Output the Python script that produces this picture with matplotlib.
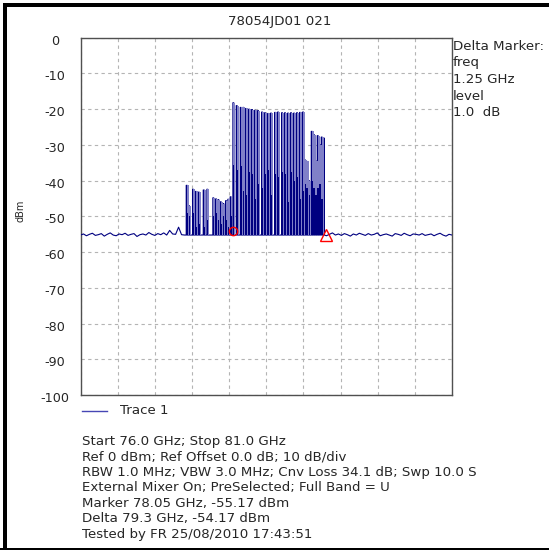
"""Spectrum analyser plot, redrawn from a screen capture (78054JD01 021)"""
import matplotlib
matplotlib.use("Agg")
import numpy as np
import matplotlib.pyplot as plt
from matplotlib.lines import Line2D
from matplotlib.patches import Rectangle

plt.rcParams['font.family'] = ['DejaVu Sans']
plt.rcParams['axes.unicode_minus'] = False

TITLE = "78054JD01 021"
START_GHZ, STOP_GHZ = 76.0, 81.0
y_ticks = [0, -10, -20, -30, -40, -50, -60, -70, -80, -90, -100]

# noise floor either side of the signal (uniform sweep points)
floor_left_start, floor_left_stop = 76.0, 77.40
floor_left_dbm = [-55.2, -54.9, -55.4, -55.0, -54.7, -55.3, -55.1, -54.8, -55.5, -55.0,
                  -54.6, -55.2, -55.4, -54.9, -55.1, -54.7, -55.3, -55.0, -54.8, -55.6,
                  -55.1, -54.9, -55.2, -54.5, -55.0, -55.3, -54.8, -55.1, -54.6, -55.2,
                  -53.9, -54.9, -55.0, -53.0, -55.1, -55.2]
floor_right_start, floor_right_stop = 79.31, 81.0
floor_right_dbm = [-55.4, -55.0, -54.6, -55.2, -54.9, -55.3, -54.8, -55.1, -55.5, -54.9,
                   -55.2, -54.7, -55.0, -55.3, -54.8, -55.2, -55.0, -54.6, -55.4, -55.1,
                   -54.9, -55.2, -55.5, -54.8, -55.0, -55.3, -54.7, -55.1, -55.4, -54.9,
                   -55.0, -55.2, -54.8, -55.3, -55.1, -54.9, -55.4, -55.0, -54.7, -55.2,
                   -55.5, -55.0, -55.2]
valley_dbm = -55.2

# spikes: centre frequency, peak level, level up to which the trace is dense
spike_ghz = [77.429, 77.460, 77.514, 77.552, 77.592, 77.658, 77.707,
             77.787, 77.824, 77.855, 77.887, 77.922, 77.958, 77.989, 78.020,
             78.057, 78.102, 78.156, 78.191, 78.227, 78.268, 78.308, 78.349, 78.389,
             78.443, 78.483, 78.524, 78.564, 78.618, 78.658, 78.712, 78.752, 78.793,
             78.833, 78.874, 78.914, 78.954, 78.995,
             79.022, 79.044, 79.075, 79.112, 79.140, 79.165, 79.192, 79.222, 79.246, 79.277]
spike_peak = [-41.3, -47.0, -42.4, -43.0, -43.2, -42.6, -42.4,
              -44.8, -45.1, -45.3, -45.9, -46.4, -45.6, -45.2, -44.5,
              -18.2, -19.0, -19.5, -19.5, -19.8, -20.0, -20.1, -20.3, -20.4,
              -20.8, -21.0, -21.2, -21.1, -20.9, -20.8, -21.0, -21.0, -21.1,
              -21.0, -21.1, -21.0, -20.9, -20.8,
              -34.2, -34.6, -40.0, -26.2, -27.1, -34.5, -27.4, -30.0, -27.8, -28.1]
spike_dense = [-49, -50, -49, -53, -52, -53, -51,
               -50, -49, -51, -52, -50, -51, -53, -50,
               -35.5, -37, -36, -43, -44, -37.5, -38, -45, -41,
               -42, -38, -37, -44, -38, -39, -37.5, -38, -46,
               -37.5, -40, -39, -45, -43,
               -41, -42, -44, -40, -42, -44, -42, -41, -45]

marker_ghz, marker_dbm = 78.05, -54.2
delta_ghz, delta_dbm = 79.3, -55.3

delta_lines = ["Delta Marker:", "freq", "1.25 GHz", "level", "1.0  dB"]
info_lines = ["Start 76.0 GHz; Stop 81.0 GHz",
              "Ref 0 dBm; Ref Offset 0.0 dB; 10 dB/div",
              "RBW 1.0 MHz; VBW 3.0 MHz; Cnv Loss 34.1 dB; Swp 10.0 S",
              "External Mixer On; PreSelected; Full Band = U",
              "Marker 78.05 GHz, -55.17 dBm",
              "Delta 79.3 GHz, -54.17 dBm",
              "Tested by FR 25/08/2010 17:43:51"]

NAVY = '#000080'
LIGHT = '#8080c8'
TEXT = '#262626'
W, H = 549, 550
SPIKE_HW = 0.006   # half width of the dark spike line, GHz
COL_LEFT = 0.002   # light column starts just right of the spike centre
COL_RIGHT = 0.025  # ... and ends here, GHz
DENSE_RIGHT = 0.014


def build_trace():
    xs = list(np.linspace(floor_left_start, floor_left_stop, len(floor_left_dbm)))
    ys = list(floor_left_dbm)
    for f, p in zip(spike_ghz, spike_peak):
        xs += [f - SPIKE_HW, f - SPIKE_HW, f + SPIKE_HW, f + SPIKE_HW]
        ys += [valley_dbm, p, p, valley_dbm]
    xs += list(np.linspace(floor_right_start, floor_right_stop, len(floor_right_dbm)))
    ys += list(floor_right_dbm)
    return xs, ys


fig = plt.figure(figsize=(W / 100, H / 100), dpi=100)
ax = fig.add_axes([80.5 / W, 1 - 395.2 / H, 371.5 / W, 357.5 / H])

trace_x, trace_y = build_trace()
ax.plot(trace_x, trace_y, color=NAVY, lw=0.8, zorder=3)

# light columns sit on top of the line, dense parts on top of those
for f, p, d in zip(spike_ghz, spike_peak, spike_dense):
    ax.add_patch(Rectangle((f + COL_LEFT, valley_dbm), COL_RIGHT - COL_LEFT, p - valley_dbm,
                           facecolor=LIGHT, edgecolor='none', zorder=4))
    ax.add_patch(Rectangle((f - SPIKE_HW, valley_dbm), DENSE_RIGHT + SPIKE_HW, d - valley_dbm,
                           facecolor=NAVY, edgecolor='none', zorder=5))

ax.plot(marker_ghz, marker_dbm, 'o', ms=6, mfc='none', mec='red', mew=1, zorder=6)
ax.plot(delta_ghz, delta_dbm, '^', ms=8, mfc='none', mec='red', mew=1, zorder=6)

ax.set_xlim(START_GHZ, STOP_GHZ)
ax.set_ylim(-100, 0)
ax.set_xticks(np.linspace(START_GHZ, STOP_GHZ, 11))
ax.set_yticks(y_ticks)
ax.tick_params(length=0, labelleft=False, labelbottom=False)
ax.grid(True, color='#b4b4b4', lw=0.8, linestyle=(0, (3, 3)))
ax.set_axisbelow(True)
for spine in ax.spines.values():
    spine.set_color('#505050')
    spine.set_linewidth(1.0)

for v in y_ticks:
    ax.annotate(str(v), xy=(0, v), xycoords=('axes fraction', 'data'),
                xytext=(-18.4, -2.4), textcoords='offset points',
                ha='center', va='center', fontsize=9.2, color=TEXT)

fig.text(21 / W, 1 - 211 / H, "dBm", rotation=90, ha='center', va='center',
         fontsize=7, color=TEXT)
fig.text(280 / W, 1 - 21 / H, TITLE, ha='center', va='center', fontsize=9.6, color=TEXT)

for i, line in enumerate(delta_lines):
    fig.text(453 / W, 1 - (46 + 16.7 * i) / H, line, ha='left', va='center',
             fontsize=9.6, color=TEXT)

# legend
fig.add_artist(Line2D([81.7 / W, 107 / W], [1 - 410.5 / H] * 2, color='#4646b4', lw=1))
fig.text(119.7 / W, 1 - 410.5 / H, "Trace 1", ha='left', va='center', fontsize=9.6, color=TEXT)

for i, line in enumerate(info_lines):
    fig.text(81.7 / W, 1 - (441.3 + 15.5 * i) / H, line, ha='left', va='center',
             fontsize=9.6, color=TEXT)

# frame of the capture
fig.add_artist(Rectangle((3 / W, 0), 4 / W, 1 - 3 / H, transform=fig.transFigure,
                         color='black', lw=0))
fig.add_artist(Rectangle((3 / W, 1 - 7.3 / H), 1, 4 / H, transform=fig.transFigure,
                         color='black', lw=0))
fig.add_artist(Rectangle((0, 0), 1, 2 / H, transform=fig.transFigure, color='black', lw=0))

fig.savefig("out.png", dpi=100)
